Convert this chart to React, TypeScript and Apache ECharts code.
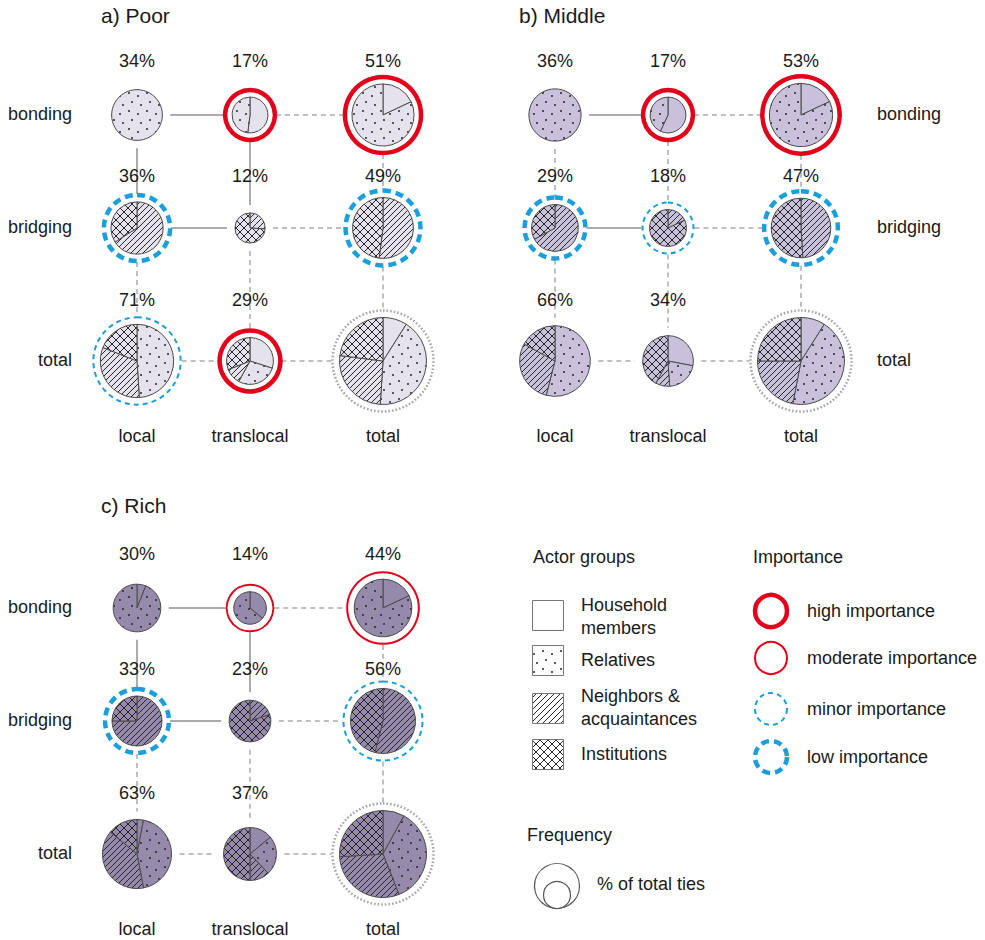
import React, { useEffect, useRef } from 'react';
import * as echarts from 'echarts';

// ---------- labels ----------
const PANEL_TITLES = ['a) Poor', 'b) Middle', 'c) Rich'];
const ROW_LABELS = ['bonding', 'bridging', 'total'];
const COL_LABELS = ['local', 'translocal', 'total'];
const ACTOR_GROUPS = ['Household members', 'Relatives', 'Neighbors & acquaintances', 'Institutions'];
const ACTOR_GROUP_LINES = ['Household\nmembers', 'Relatives', 'Neighbors &\nacquaintances', 'Institutions'];
const IMPORTANCE_LABELS = ['high importance', 'moderate importance', 'minor importance', 'low importance'];
const IMPORTANCE_KEYS = ['high', 'moderate', 'minor', 'low'];

// ---------- data: frequency (% of total ties), rows bonding/bridging/total x cols local/translocal/total ----------
const poorFreq = [[34, 17, 51], [36, 12, 49], [71, 29, 100]];
const middleFreq = [[36, 17, 53], [29, 18, 47], [66, 34, 100]];
const richFreq = [[30, 14, 44], [33, 23, 56], [63, 37, 100]];

// composition of each cell: [household, relatives, neighbors, institutions] (%)
const poorShares = [
  [[0, 100, 0, 0], [52, 48, 0, 0], [18, 82, 0, 0]],
  [[0, 0, 66, 34], [0, 0, 26, 74], [0, 0, 52, 48]],
  [[0, 49, 32, 19], [30, 28, 11, 31], [9, 42, 26, 23]],
];
const middleShares = [
  [[0, 100, 0, 0], [57, 43, 0, 0], [18, 82, 0, 0]],
  [[0, 0, 67, 33], [0, 0, 18, 82], [0, 0, 49, 51]],
  [[0, 54, 29, 17], [28, 21, 9, 42], [9, 44, 22, 25]],
];
const richShares = [
  [[6, 94, 0, 0], [36, 64, 0, 0], [18, 82, 0, 0]],
  [[0, 0, 75, 25], [0, 0, 20, 80], [0, 0, 54, 46]],
  [[3, 44, 39, 14], [14, 24, 12, 50], [8, 36, 30, 26]],
];

// importance rings
const poorImportance = [['none', 'high', 'high'], ['low', 'none', 'low'], ['minor', 'high', 'overall']];
const middleImportance = [['none', 'high', 'high'], ['low', 'minor', 'low'], ['none', 'none', 'overall']];
const richImportance = [['none', 'moderate', 'moderate'], ['low', 'none', 'minor'], ['none', 'none', 'overall']];

// links: horizontal [row][local-translocal, translocal-total], vertical [col][bonding-bridging, bridging-total]
const poorLinksH = [['solid', 'dashed'], ['solid', 'dashed'], ['dashed', 'dashed']];
const poorLinksV = [['solid', 'dashed'], ['solid', 'dashed'], ['dashed', 'dashed']];
const middleLinksH = [['solid', 'dashed'], ['solid', 'dashed'], ['dashed', 'dashed']];
const middleLinksV = [['dashed', 'dashed'], ['dashed', 'dashed'], ['dashed', 'dashed']];
const richLinksH = [['solid', 'dashed'], ['solid', 'dashed'], ['dashed', 'dashed']];
const richLinksV = [['solid', 'dashed'], ['solid', 'dashed'], ['dashed', 'dashed']];

const PANEL_DATA = [
  { freq: poorFreq, shares: poorShares, imp: poorImportance, lh: poorLinksH, lv: poorLinksV },
  { freq: middleFreq, shares: middleShares, imp: middleImportance, lh: middleLinksH, lv: middleLinksV },
  { freq: richFreq, shares: richShares, imp: richImportance, lh: richLinksH, lv: richLinksV },
];

// ---------- layout & style ----------
const PANEL_ORIGIN = [[0, 0], [418, 0], [0, 493]];
const TITLE_Y = [15, 15, 505];
const COL_X = [137, 250, 383];
const ROW_Y = [115, 228, 361];
const PCT_Y = [61, 176, 300];
const COLLABEL_Y = 436;
const R_SCALE = 4.35;
const RING_GAP = 7;
const LINK_GAP = 8;
const PIE_FILL = ['#e5e1ed', '#c9c0dc', '#968aac'];
const KINDS = ['plain', 'dots', 'hatch', 'cross'];
const RED = '#e2001a';
const BLUE = '#1a9fdc';
const LINK_COLOR = '#ababab';
const TEXT_COLOR = '#1a1a1a';
const FONT = '"Liberation Sans", Arial, Helvetica, sans-serif';

const RING_STYLE: Record<string, any> = {
  high: { color: RED, width: 4.5, dash: null },
  moderate: { color: RED, width: 2, dash: null },
  minor: { color: BLUE, width: 2, dash: [5, 4] },
  low: { color: BLUE, width: 4.5, dash: [8, 5] },
  overall: { color: '#a6a6a6', width: 2.5, dash: [1.6, 2] },
};

function makePattern(kind: string, bg: string): any {
  if (kind === 'plain') return bg;
  const size = kind === 'dots' ? 18 : kind === 'hatch' ? 6 : 8;
  const c = document.createElement('canvas');
  c.width = size;
  c.height = size;
  const ctx = c.getContext('2d') as CanvasRenderingContext2D;
  ctx.fillStyle = bg;
  ctx.fillRect(0, 0, size, size);
  ctx.strokeStyle = '#262626';
  ctx.fillStyle = '#262626';
  ctx.lineWidth = 1;
  if (kind === 'dots') {
    const pts = [[3, 3], [12, 6], [6, 12], [15, 15]];
    pts.forEach(([x, y]) => {
      ctx.beginPath();
      ctx.arc(x, y, 1, 0, Math.PI * 2);
      ctx.fill();
    });
  } else {
    const diag = (up: boolean) => {
      for (let k = -1; k <= 1; k++) {
        ctx.beginPath();
        if (up) {
          ctx.moveTo(k * size, size);
          ctx.lineTo(k * size + size, 0);
        } else {
          ctx.moveTo(k * size, 0);
          ctx.lineTo(k * size + size, size);
        }
        ctx.stroke();
      }
    };
    diag(true);
    if (kind === 'cross') diag(false);
  }
  return { image: c, repeat: 'repeat', imageWidth: size, imageHeight: size };
}

function text(str: string, x: number, y: number, size: number, align: string, extra: any = {}) {
  return {
    type: 'text',
    z: 20,
    silent: true,
    style: {
      text: str,
      x,
      y,
      fill: TEXT_COLOR,
      font: `${size}px ${FONT}`,
      align,
      verticalAlign: 'middle',
      textAlign: align,
      textVerticalAlign: 'middle',
      ...extra,
    },
  };
}

function buildOption() {
  const series: any[] = [];
  const graphics: any[] = [];

  PANEL_DATA.forEach((pd, p) => {
    const [ox, oy] = PANEL_ORIGIN[p];
    const patterns = KINDS.map((k) => makePattern(k, PIE_FILL[p]));
    const rad = (i: number, j: number) => R_SCALE * Math.sqrt(pd.freq[i][j]);
    const cx = (j: number) => ox + COL_X[j];
    const cy = (i: number) => oy + ROW_Y[i];

    // links
    for (let i = 0; i < 3; i++) {
      for (let j = 0; j < 2; j++) {
        const solid = pd.lh[i][j] === 'solid';
        graphics.push({
          type: 'line', z: 0, silent: true,
          shape: { x1: cx(j) + rad(i, j) + LINK_GAP, y1: cy(i), x2: cx(j + 1) - rad(i, j + 1) - LINK_GAP, y2: cy(i) },
          style: { stroke: LINK_COLOR, lineWidth: solid ? 2 : 1.5, lineDash: solid ? null : [5, 4] },
        });
      }
    }
    for (let j = 0; j < 3; j++) {
      for (let i = 0; i < 2; i++) {
        const solid = pd.lv[j][i] === 'solid';
        graphics.push({
          type: 'line', z: 0, silent: true,
          shape: { x1: cx(j), y1: cy(i) + rad(i, j) + LINK_GAP, x2: cx(j), y2: cy(i + 1) - rad(i + 1, j) - LINK_GAP },
          style: { stroke: LINK_COLOR, lineWidth: solid ? 2 : 1.5, lineDash: solid ? null : [5, 4] },
        });
      }
    }

    for (let i = 0; i < 3; i++) {
      for (let j = 0; j < 3; j++) {
        const r = rad(i, j);
        series.push({
          type: 'pie',
          id: `pie-${p}-${i}-${j}`,
          center: [cx(j), cy(i)],
          radius: [0, r],
          startAngle: 90,
          clockwise: true,
          silent: true,
          animation: false,
          z: 2,
          label: { show: false },
          labelLine: { show: false },
          emphasis: { disabled: true },
          itemStyle: { borderColor: '#4a4a4a', borderWidth: 1 },
          data: ACTOR_GROUPS.map((name, k) => ({
            name,
            value: pd.shares[i][j][k],
            itemStyle: { color: patterns[k] },
          })).filter((d) => d.value > 0),
        });
        const imp = pd.imp[i][j];
        if (imp !== 'none') {
          const st = RING_STYLE[imp];
          series.push({
            type: 'pie',
            id: `ring-${p}-${i}-${j}`,
            center: [cx(j), cy(i)],
            radius: [0, r + RING_GAP],
            startAngle: 90,
            silent: true,
            animation: false,
            z: 3,
            label: { show: false },
            labelLine: { show: false },
            emphasis: { disabled: true },
            itemStyle: {
              color: 'rgba(0,0,0,0)',
              borderColor: st.color,
              borderWidth: st.width,
              borderType: st.dash ? st.dash : 'solid',
            },
            data: [{ name: imp, value: 1 }],
          });
        }
        if (!(i === 2 && j === 2)) {
          graphics.push(text(`${pd.freq[i][j]}%`, cx(j), oy + PCT_Y[i], 18, 'center'));
        }
      }
    }

    // row labels
    ROW_LABELS.forEach((lab, i) => {
      if (p === 1) graphics.push(text(lab, ox + 459, cy(i) - 1, 18, 'left'));
      else graphics.push(text(lab, ox + 72, cy(i) - 1, 18, 'right'));
    });
    // column labels
    COL_LABELS.forEach((lab, j) => {
      graphics.push(text(lab, cx(j), oy + COLLABEL_Y, 18, 'center'));
    });
    // title
    graphics.push(text(PANEL_TITLES[p], ox + 101, TITLE_Y[p], 21, 'left'));
  });

  // ---------- legend ----------
  const legendPatterns = KINDS.map((k) => makePattern(k, '#ffffff'));
  graphics.push(text('Actor groups', 533, 557, 18, 'left'));
  const sqTop = [600, 645, 693, 739];
  const labY = [616, 660, 707, 754];
  ACTOR_GROUP_LINES.forEach((lab, k) => {
    graphics.push({
      type: 'rect', z: 5, silent: true,
      shape: { x: 532.5, y: sqTop[k] + 0.5, width: 31, height: 30 },
      style: { fill: legendPatterns[k], stroke: '#777777', lineWidth: 1 },
    });
    graphics.push(text(lab, 581, labY[k], 18, 'left', { lineHeight: 23 }));
  });

  graphics.push(text('Importance', 753, 557, 18, 'left'));
  const impY = [611, 658, 709, 757];
  IMPORTANCE_KEYS.forEach((key, k) => {
    const st = RING_STYLE[key];
    graphics.push({
      type: 'circle', z: 5, silent: true,
      shape: { cx: 771, cy: impY[k], r: 16 },
      style: { fill: 'none', stroke: st.color, lineWidth: st.width, lineDash: st.dash },
    });
    graphics.push(text(IMPORTANCE_LABELS[k], 807, impY[k], 18, 'left'));
  });

  graphics.push(text('Frequency', 527, 835, 18, 'left'));
  graphics.push({
    type: 'circle', z: 5, silent: true,
    shape: { cx: 557, cy: 886, r: 22.5 },
    style: { fill: 'none', stroke: '#555555', lineWidth: 1.2 },
  });
  graphics.push({
    type: 'circle', z: 5, silent: true,
    shape: { cx: 557, cy: 895, r: 13.5 },
    style: { fill: 'none', stroke: '#555555', lineWidth: 1.2 },
  });
  graphics.push(text('% of total ties', 597, 884, 18, 'left'));

  return {
    animation: false,
    backgroundColor: '#ffffff',
    series,
    graphic: { elements: graphics },
  };
}

export default function App() {
  const ref = useRef<HTMLDivElement>(null);
  useEffect(() => {
    if (!ref.current) return;
    const chart = echarts.init(ref.current, undefined, { renderer: 'svg' });
    chart.setOption(buildOption() as any);
    return () => chart.dispose();
  }, []);
  return (
    <div
      ref={ref}
      style={{ position: 'absolute', left: 0, top: 0, width: 985, height: 940, background: '#fff' }}
    />
  );
}
